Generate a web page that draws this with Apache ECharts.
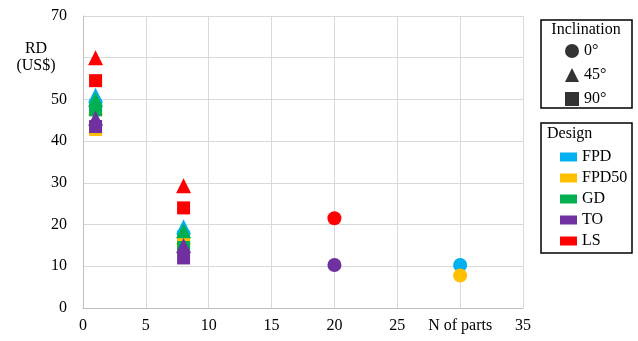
<!DOCTYPE html>
<html>
<head>
<meta charset="utf-8">
<script src="https://cdn.jsdelivr.net/npm/echarts@6/dist/echarts.min.js"></script>
</head>
<body style="margin:0">
<div id="main" style="width:638px;height:341px;"></div>
<script>
// designs and their colours
var designs = ['FPD', 'FPD50', 'GD', 'TO', 'LS'];
var designColors = ['#00b0f0', '#ffc000', '#00b050', '#7030a0', '#ff0000'];
var inclinations = ['0°', '45°', '90°'];

// [N of parts, RD] per design
var circleData = [
	[[30, 10.3]],
	[[30, 7.8]],
	[],
	[[20, 10.3]],
	[[20, 21.5]]
];
var triangleData = [
	[[1, 51], [8, 19.5]],
	[[1, 48], [8, 17]],
	[[1, 50], [8, 18.5]],
	[[1, 45.5], [8, 15]],
	[[1, 60], [8, 29.3]]
];
var squareData = [
	[[1, 48.5], [8, 17]],
	[[1, 42.8], [8, 15.5]],
	[[1, 47.5], [8, 14.5]],
	[[1, 43.5], [8, 12]],
	[[1, 54.5], [8, 24]]
];

var font = 'Liberation Serif';
var myChart = echarts.init(document.getElementById('main'), null, { renderer: 'canvas' });

var series = [];
// dummy series for the inclination legend
var shapes = ['circle', 'triangle', 'rect'];
for (var k = 0; k < 3; k++) {
	series.push({ type: 'scatter', name: inclinations[k], symbol: shapes[k], itemStyle: { color: '#000' }, data: [] });
}
var sets = [[squareData, 'rect', 13], [triangleData, 'triangle', 15], [circleData, 'circle', 14]];
for (var i = 0; i < designs.length; i++) {
	for (var s = 0; s < sets.length; s++) {
		series.push({
			type: 'scatter',
			name: designs[i],
			symbol: sets[s][1],
			symbolSize: sets[s][2],
			itemStyle: { color: designColors[i], opacity: 1 },
			data: sets[s][0][i]
		});
	}
}

var option = {
	animation: false,
	grid: { left: 83, right: 115, top: 16, bottom: 33 },
	xAxis: {
		type: 'value', min: 0, max: 35, interval: 5,
		axisLine: { lineStyle: { color: '#bfbfbf' } },
		axisTick: { show: false },
		splitLine: { lineStyle: { color: '#d9d9d9' } },
		axisLabel: {
			color: '#000', fontFamily: font, fontSize: 16, margin: 10,
			formatter: function (v) { return v === 30 ? 'N of parts' : v; }
		}
	},
	yAxis: {
		type: 'value', min: 0, max: 70, interval: 10,
		axisLine: { show: true, lineStyle: { color: '#bfbfbf' } },
		axisTick: { show: false },
		splitLine: { lineStyle: { color: '#d9d9d9' } },
		axisLabel: {
			color: '#000', fontFamily: font, fontSize: 16, margin: 16,
			formatter: function (v) { return v === 60 ? '{t|RD}\n{t|(US$)}' : v; },
			rich: {
				t: { width: 42, align: 'center', padding: [0, 10, 0, 0], lineHeight: 17, fontFamily: font, fontSize: 16, color: '#000' }
			}
		}
	},
	legend: [{
		orient: 'vertical', left: 560, top: 38, itemGap: 8,
		itemWidth: 14, itemHeight: 14,
		textStyle: { color: '#000', fontFamily: font, fontSize: 16 },
		data: [
			{ name: '0°', icon: 'circle' },
			{ name: '45°', icon: 'triangle' },
			{ name: '90°', icon: 'rect' }
		]
	}, {
		orient: 'vertical', left: 555, top: 144, itemGap: 5,
		itemWidth: 17, itemHeight: 9, icon: 'rect',
		textStyle: { color: '#000', fontFamily: font, fontSize: 16 },
		data: designs
	}],
	graphic: [
		{ type: 'rect', shape: { x: 541, y: 20, width: 91, height: 88 }, style: { fill: 'none', stroke: '#000', lineWidth: 1.5 } },
		{ type: 'text', x: 586, y: 30, style: { text: 'Inclination', font: '16px "Liberation Serif"', fill: '#000', align: 'center', verticalAlign: 'middle' } },
		{ type: 'rect', shape: { x: 541, y: 123, width: 91, height: 130 }, style: { fill: 'none', stroke: '#000', lineWidth: 1.5 } },
		{ type: 'text', x: 547, y: 134, style: { text: 'Design', font: '16px "Liberation Serif"', fill: '#000', verticalAlign: 'middle' } }
	],
	series: series
};
myChart.setOption(option);
</script>
</body>
</html>
